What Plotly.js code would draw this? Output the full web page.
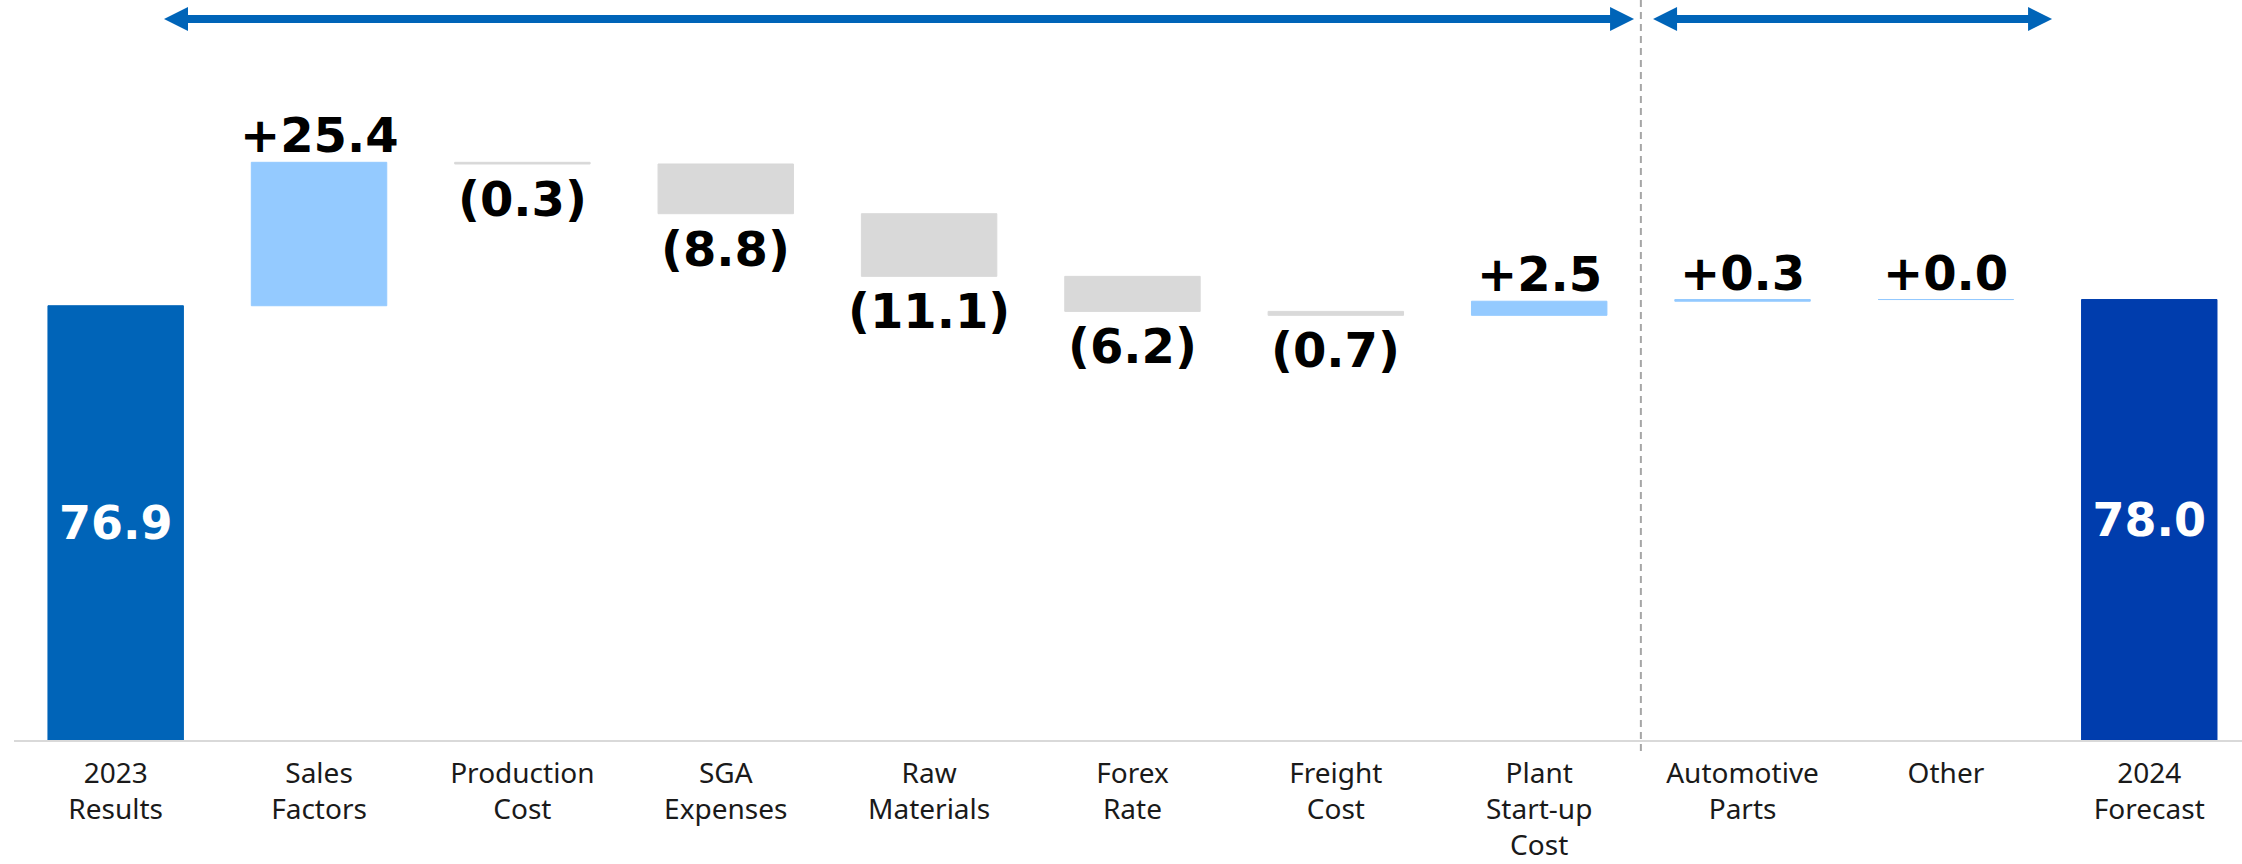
<!DOCTYPE html>
<html>
<head>
<meta charset="utf-8">
<script src="https://cdn.plot.ly/plotly-3.0.1.min.js"></script>
<style>html,body{margin:0;padding:0;background:#fff;}#chart{width:2242px;height:864px;}</style>
</head>
<body>
<div id="chart"></div>
<script>
// ---- data ----
const categories = ['2023<br>Results', 'Sales<br>Factors', 'Production<br>Cost', 'SGA<br>Expenses',
  'Raw<br>Materials', 'Forex<br>Rate', 'Freight<br>Cost', 'Plant<br>Start-up<br>Cost',
  'Automotive<br>Parts', 'Other', '2024<br>Forecast'];
const measures = ['absolute', 'relative', 'relative', 'relative', 'relative', 'relative',
  'relative', 'relative', 'relative', 'relative', 'total'];
const values = [76.9, 25.4, -0.3, -8.8, -11.1, -6.2, -0.7, 2.5, 0.3, 0.0, 78.0];

// ---- styles ----
const colStart = '#0064B8';
const colEnd = '#003DAD';
const colUp = '#94CAFF';
const colDown = '#D9D9D9';
const arrowCol = '#0064B8';

// ---- build waterfall geometry from the data ----
const xs = categories.map((c, i) => i);
const bases = [], heights = [], colors = [], texts = [];
const labelAnns = [];
let run = 0;
values.forEach((v, i) => {
  const m = measures[i];
  if (m === 'absolute') {
    bases.push(0); heights.push(v); run = v;
    colors.push(colStart); texts.push(v.toFixed(1));
  } else if (m === 'total') {
    bases.push(0); heights.push(v);
    colors.push(colEnd); texts.push(v.toFixed(1));
  } else {
    bases.push(run); heights.push(v);
    const up = v >= 0;
    colors.push(up ? colUp : colDown);
    texts.push('');
    labelAnns.push({
      x: i, y: run + v, xref: 'x', yref: 'y', showarrow: false,
      text: up ? '+' + v.toFixed(1) : '(' + Math.abs(v).toFixed(1) + ')',
      yanchor: up ? 'bottom' : 'top', xanchor: 'center',
      yshift: up ? -3 : -5,
      font: { family: 'DejaVu Sans', size: 48, weight: 'bold', color: '#000000' }
    });
    run += v;
  }
});

const trace = {
  type: 'bar',
  x: xs,
  y: heights,
  base: bases,
  width: 0.666,
  marker: { color: colors, line: { color: colors, width: 1 } },
  text: texts,
  textposition: 'inside',
  insidetextanchor: 'middle',
  textangle: 0,
  constraintext: 'none',
  cliponaxis: false,
  insidetextfont: { family: 'DejaVu Sans', size: 46, weight: 'bold', color: '#ffffff' },
  hoverinfo: 'skip'
};

const arrowY = 1 - 19 / 740;
function head(x, dir) {
  const p = dir < 0 ? 'M0,0L24,12L24,-12Z' : 'M0,0L-24,12L-24,-12Z';
  return { type: 'path', xref: 'x', yref: 'paper', xsizemode: 'pixel', ysizemode: 'pixel',
    xanchor: x, yanchor: arrowY, path: p, fillcolor: arrowCol, line: { width: 0 } };
}
function shaft(x0, x1) {
  return { type: 'line', xref: 'x', yref: 'paper', x0: x0, x1: x1, y0: arrowY, y1: arrowY,
    line: { color: arrowCol, width: 8 } };
}
const a1 = [0.2376, 7.4666], a2 = [7.560, 9.522];

const layout = {
  width: 2242, height: 864,
  margin: { l: 14, r: 0, t: 0, b: 124 },
  paper_bgcolor: '#ffffff', plot_bgcolor: '#ffffff',
  showlegend: false,
  xaxis: {
    range: [-0.5, 10.456],
    tickvals: xs, ticktext: categories,
    showline: true, linecolor: '#D9D9D9', linewidth: 2,
    showgrid: false, zeroline: false, ticks: '',
    ticklabelstandoff: 7,
    tickfont: { family: 'Noto Sans', size: 28, color: '#1a1a1a' },
    fixedrange: true
  },
  yaxis: { range: [0, 131.04], visible: false, showgrid: false, zeroline: false, fixedrange: true },
  annotations: labelAnns,
  shapes: [
    { type: 'line', xref: 'x', yref: 'paper', x0: 7.5, x1: 7.5, y0: 1, y1: -0.02,
      line: { color: '#A6A6A6', width: 2, dash: '7px,5px' } },
    shaft(a1[0] + 0.1, a1[1] - 0.1), head(a1[0], -1), head(a1[1], 1),
    shaft(a2[0] + 0.1, a2[1] - 0.1), head(a2[0], -1), head(a2[1], 1)
  ]
};

Plotly.newPlot('chart', [trace], layout, { staticPlot: true, displayModeBar: false });
</script>
</body>
</html>
